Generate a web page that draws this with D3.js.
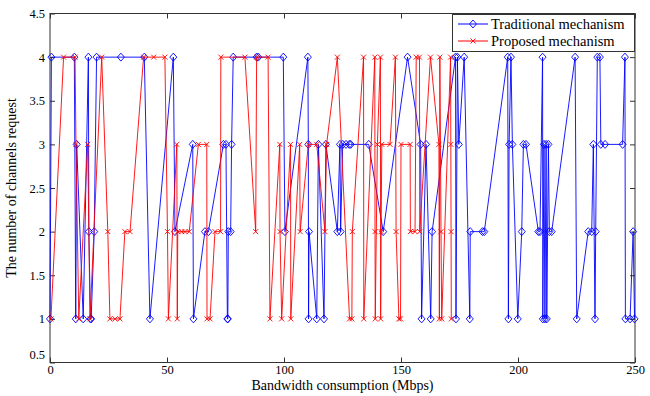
<!DOCTYPE html>
<html><head><meta charset="utf-8">
<script src="https://cdn.jsdelivr.net/npm/d3@7"></script>
<style>body{margin:0;background:#fff}svg{display:block}text{font-family:"Liberation Serif","Times New Roman",serif;fill:#000}</style>
</head><body><svg id="c" width="650" height="396"></svg>
<script>
// Traditional mechanism (blue, diamonds)
const tradBandwidth=[0,0.6,10.4,11,11.4,14.2,16.4,16.6,17.3,17.6,18.9,19.9,30.3,40.3,42.7,52.7,53.4,61,61.3,66.2,67.7,74.1,75.2,75.8,76,76.2,77.2,77.6,78.3,88.3,89,99.7,100.4,110.2,110.4,110.5,110.7,114,114.7,117.1,117.9,122.8,123.9,124.2,125.1,126.5,127.9,128.5,136.2,142.4,152.8,158.4,158.8,160.7,162.7,163.3,173.3,173.5,174.1,174.7,177,179.4,179.6,184.8,185.6,195.6,195.9,196.2,197,197.6,199.9,201.6,202.3,203.4,208.7,209.4,210.5,210.6,211.1,211.5,212,212.3,213,213.4,214.4,224.4,225.1,230,231.5,232.2,232.9,233.2,233.9,235,235.4,237.2,244.7,245.7,245.9,247.9,249.2,249.8];
const tradChannels=[1,4,4,1,3,1,4,2,1,1,2,4,4,4,1,4,2,3,1,2,2,3,3,1,1,2,2,3,4,4,4,4,2,4,3,1,2,1,3,1,3,2,3,2,3,3,3,3,3,2,4,3,1,3,1,2,4,1,4,3,4,1,2,2,2,4,1,3,4,3,1,2,3,3,2,2,4,1,3,1,3,1,3,2,2,4,1,2,2,3,1,2,4,4,3,3,3,4,1,1,2,1];
// Proposed mechanism (red, x markers)
const propBandwidth=[0.4,5.8,10.7,11.1,12.3,16.1,17.1,22.1,24.7,25.6,27.8,29.9,32,34.2,40,44.3,49.1,50.2,50.6,54.2,54.4,54.6,56.3,57.7,59.5,63.4,67,67.1,68.4,70.5,72.9,73,83.3,87.9,88.3,93.2,94,98.2,98.3,99,102.8,102.9,106.7,106.9,110.4,114,117.5,118.2,122.8,128,129,129.2,134,134.1,138.8,138.9,139,139.9,141.2,141.3,141.5,141.8,145.3,147.6,147.9,149.1,149.8,150,153.9,154,156,156.5,157.9,158,162.6,166.2,166.4,166.6,167.1,167.4,171.2,171.3,171.4,171.5];
const propChannels=[1,4,4,3,1,3,1,4,2,1,1,1,2,2,4,4,4,2,1,3,1,2,2,2,2,3,3,1,1,2,2,4,4,2,4,4,1,3,2,1,3,1,3,2,3,3,2,3,4,1,1,2,4,1,4,2,1,3,4,1,2,3,3,4,2,1,1,3,3,2,2,4,4,2,4,3,1,4,2,1,4,3,2,1];
const xTicks=[0,50,100,150,200,250];
const yTicks=[0.5,1,1.5,2,2.5,3,3.5,4,4.5];
const seriesNames=["Traditional mechanism","Proposed mechanism"];
const xTitle="Bandwidth consumption (Mbps)";
const yTitle="The number of channels request";

const svg=d3.select("#c");
const x=d3.scaleLinear().domain([0,250]).range([50,635]);
const y=d3.scaleLinear().domain([0.5,4.5]).range([362.5,13.5]);
const fmt=d=>String(d);

const axColor="#333";
function styleAxis(g,hideText){
  g.select(".domain").remove();
  g.selectAll("line").attr("stroke",axColor);
  g.selectAll("text").style("font-family",'"Liberation Serif",serif').style("font-size","12.5px").attr("fill","#000");
  if(hideText) g.selectAll("text").remove();
}
svg.append("g").attr("transform","translate(0,362.5)")
  .call(d3.axisBottom(x).tickValues(xTicks).tickSize(-5).tickPadding(3).tickFormat(fmt)).call(g=>styleAxis(g,false));
svg.append("g").attr("transform","translate(0,13.5)")
  .call(d3.axisTop(x).tickValues(xTicks).tickSize(-5)).call(g=>styleAxis(g,true));
svg.append("g").attr("transform","translate(50,0)")
  .call(d3.axisLeft(y).tickValues(yTicks).tickSize(-5).tickPadding(5).tickFormat(fmt))
  .call(g=>styleAxis(g,false))
  .call(g=>g.selectAll(".tick").filter(d=>d===0.5).select("text").attr("dy","-0.35em"));
svg.append("g").attr("transform","translate(635,0)")
  .call(d3.axisRight(y).tickValues(yTicks).tickSize(-5)).call(g=>styleAxis(g,true));
svg.append("rect").attr("x",50).attr("y",13.5).attr("width",585).attr("height",349)
  .attr("fill","none").attr("stroke",axColor).attr("stroke-width",1);

const line=d3.line().x(d=>x(d[0])).y(d=>y(d[1]));
const trad=tradBandwidth.map((v,i)=>[v,tradChannels[i]]);
const prop=propBandwidth.map((v,i)=>[v,propChannels[i]]);
const blue="#0000ff", red="#ff0000";
const diamond=(g,cx,cy)=>g.append("path").attr("d",`M${cx},${cy-4}L${cx+3.5},${cy}L${cx},${cy+4}L${cx-3.5},${cy}Z`).attr("fill","none").attr("stroke",blue).attr("stroke-width",0.9);
const cross=(g,cx,cy)=>g.append("path").attr("d",`M${cx-2.5},${cy-2.5}L${cx+2.5},${cy+2.5}M${cx-2.5},${cy+2.5}L${cx+2.5},${cy-2.5}`).attr("stroke",red).attr("stroke-width",0.9);

const gT=svg.append("g");
gT.append("path").datum(trad).attr("d",line).attr("fill","none").attr("stroke",blue).attr("stroke-width",0.9);
trad.forEach(d=>diamond(gT,x(d[0]),y(d[1])));
const gP=svg.append("g");
gP.append("path").datum(prop).attr("d",line).attr("fill","none").attr("stroke",red).attr("stroke-width",0.9);
prop.forEach(d=>cross(gP,x(d[0]),y(d[1])));

// legend
const lg=svg.append("g");
lg.append("rect").attr("x",452.5).attr("y",14.5).attr("width",182).attr("height",37).attr("fill","#fff").attr("stroke",axColor);
[[seriesNames[0],blue,24],[seriesNames[1],red,41]].forEach(([t,c,yy],i)=>{
  lg.append("line").attr("x1",458).attr("x2",488).attr("y1",yy).attr("y2",yy).attr("stroke",c);
  if(i===0) diamond(lg,473,yy); else cross(lg,473,yy);
  lg.append("text").attr("x",491).attr("y",yy).attr("dy","0.35em").style("font-size","14.5px").text(t);
});

svg.append("text").attr("x",342.5).attr("y",390).attr("text-anchor","middle").style("font-size","14px").text(xTitle);
svg.append("text").attr("transform","translate(16,188) rotate(-90)").attr("text-anchor","middle").style("font-size","14px").text(yTitle);
</script></body></html>
